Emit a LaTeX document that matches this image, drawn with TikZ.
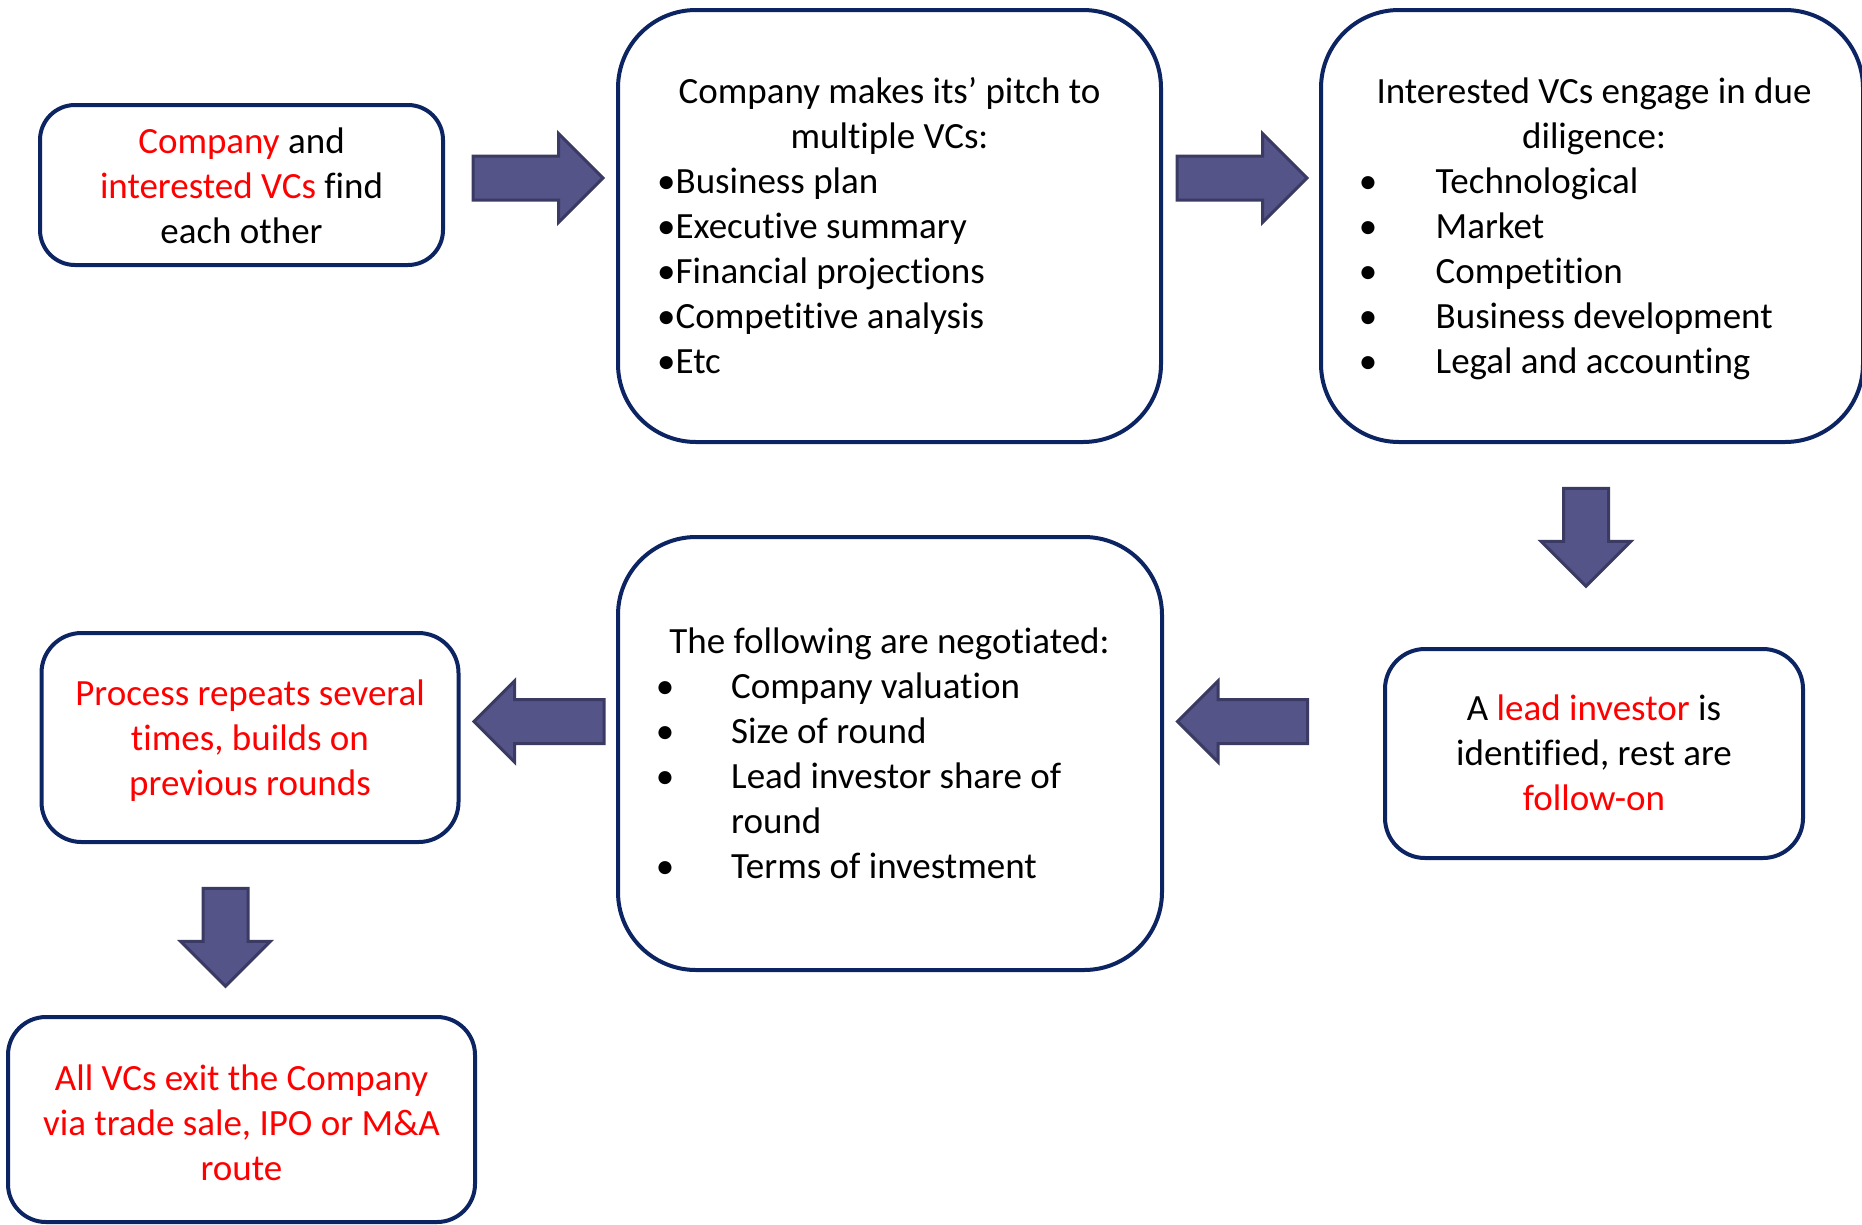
\documentclass[tikz,border=0pt]{standalone}
\usepackage{fontspec}
\setmainfont[Ligatures=NoCommon]{Carlito}
\usetikzlibrary{shapes.arrows}
\definecolor{boxnavy}{RGB}{12,36,98}
\definecolor{arrfill}{RGB}{84,84,136}
\definecolor{arrline}{RGB}{58,58,98}
\begin{document}
\begin{tikzpicture}[x=1pt,y=-1pt,
  box/.style={draw=boxnavy, line width=4pt, fill=white, inner sep=0pt},
  txt/.style={inner sep=0pt, font=\fontsize{37}{45}\selectfont},
  ctr/.style={txt, anchor=base},
  lft/.style={txt, anchor=base west},
  bul/.style={txt, anchor=base},
  blk/.style={single arrow, fill=arrfill, draw=arrline, line width=3pt,
    inner xsep=0pt, single arrow tip angle=90, outer sep=0pt},
  rarr/.style={blk, inner ysep=20.5pt, minimum height=130pt, single arrow head extend=22.5pt},
  larr/.style={blk, inner ysep=20.5pt, minimum height=130pt, single arrow head extend=18.5pt, rotate=180},
  darr/.style={blk, inner ysep=21pt, minimum height=98pt, single arrow head extend=22.5pt, rotate=-90}
]
\useasboundingbox (0,0) rectangle (1862,1224);

% boxes
\node[box, rounded corners=35pt, minimum width=403pt, minimum height=160pt] (b1) at (241.5,185) {};
\node[box, rounded corners=78pt, minimum width=543pt, minimum height=432pt] (b2) at (889.5,226) {};
\node[box, rounded corners=78pt, minimum width=542pt, minimum height=432pt] (b3) at (1592,226) {};
\node[box, rounded corners=40pt, minimum width=418pt, minimum height=209pt] (b4) at (1594,753.5) {};
\node[box, rounded corners=78pt, minimum width=544pt, minimum height=433pt] (b5) at (890,753.5) {};
\node[box, rounded corners=40pt, minimum width=417pt, minimum height=209pt] (b6) at (250,737.5) {};
\node[box, rounded corners=38pt, minimum width=467pt, minimum height=205pt] (b7) at (241.5,1119.5) {};

% block arrows
\node[rarr] (a1) at (527,178) {};
\node[rarr] (a2) at (1231,178) {};
\node[darr] (a3) at (1586,526) {};
\node[larr] (a4) at (1253.5,721.5) {};
\node[larr] (a5) at (550,721.5) {};
\node[darr] (a6) at (225.5,926) {};

% box 1
\node[ctr] (t11) at (241.5,153) {\textcolor{red}{Company} and};
\node[ctr] (t12) at (241.5,198) {\textcolor{red}{interested VCs} find};
\node[ctr] (t13) at (241.5,243) {each other};

% box 2
\node[ctr] (t21) at (889.5,103.3) {Company makes its’ pitch to};
\node[ctr] (t22) at (889.5,148.3) {multiple VCs:};
\node[lft] (t23) at (657,193.3) {•Business plan};
\node[lft] (t24) at (657,238.3) {•Executive summary};
\node[lft] (t25) at (657,283.3) {•Financial projections};
\node[lft] (t26) at (657,328.3) {•Competitive analysis};
\node[lft] (t27) at (657,373.3) {•Etc};

% box 3
\node[ctr] (t31) at (1594,103.3) {Interested VCs engage in due};
\node[ctr] (t32) at (1594,148.3) {diligence:};
\node[bul] (u33) at (1368,193.3) {•};
\node[lft] (t33) at (1435.5,193.3) {Technological};
\node[bul] (u34) at (1368,238.3) {•};
\node[lft] (t34) at (1435.5,238.3) {Market};
\node[bul] (u35) at (1368,283.3) {•};
\node[lft] (t35) at (1435.5,283.3) {Competition};
\node[bul] (u36) at (1368,328.3) {•};
\node[lft] (t36) at (1435.5,328.3) {Business development};
\node[bul] (u37) at (1368,373.3) {•};
\node[lft] (t37) at (1435.5,373.3) {Legal and accounting};

% box 4
\node[ctr] (t41) at (1594,720) {A \textcolor{red}{lead investor} is};
\node[ctr] (t42) at (1594,765) {identified, rest are};
\node[ctr, text=red] (t43) at (1594,810) {follow-on};

% box 5
\node[ctr] (t51) at (889.5,653.3) {The following are negotiated:};
\node[bul] (u52) at (665,698.3) {•};
\node[lft] (t52) at (731,698.3) {Company valuation};
\node[bul] (u53) at (665,743.3) {•};
\node[lft] (t53) at (731,743.3) {Size of round};
\node[bul] (u54) at (665,788.3) {•};
\node[lft] (t54) at (731,788.3) {Lead investor share of};
\node[lft] (t55) at (731,833.3) {round};
\node[bul] (u56) at (665,878.3) {•};
\node[lft] (t56) at (731,878.3) {Terms of investment};

% box 6
\node[ctr, text=red] (t61) at (250,705) {Process repeats several};
\node[ctr, text=red] (t62) at (250,750) {times, builds on};
\node[ctr, text=red] (t63) at (250,795) {previous rounds};

% box 7
\node[ctr, text=red] (t71) at (241.5,1090) {All VCs exit the Company};
\node[ctr, text=red] (t72) at (241.5,1135) {via trade sale, IPO or M\&A};
\node[ctr, text=red] (t73) at (241.5,1180) {route};
\end{tikzpicture}
\end{document}
